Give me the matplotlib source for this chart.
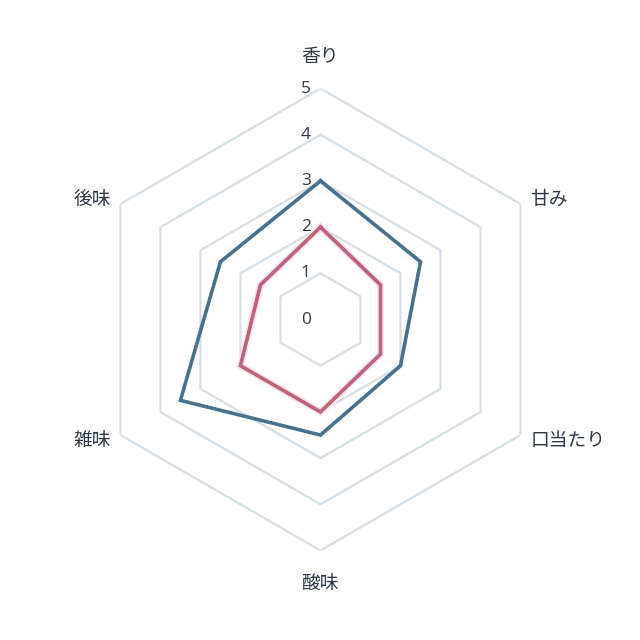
import numpy as np
import matplotlib
matplotlib.use("Agg")
import matplotlib.pyplot as plt
import matplotlib.patheffects as pe

plt.rcParams['font.family'] = ['Noto Sans CJK JP', 'DejaVu Sans']

# data
categories = ["香り", "甘み", "口当たり", "酸味", "雑味", "後味"]
series_blue = [3, 2.5, 2, 2.5, 3.5, 2.5]
series_pink = [2, 1.5, 1.5, 2, 2, 1.5]
rings = [1, 2, 3, 4, 5]
tick_labels = ["0", "1", "2", "3", "4", "5"]

text_color = "#2f3a48"
grid_color = "#d6dee6"
blue = "#48708f"
pink = "#c0627a"

n = len(categories)
angles = np.linspace(0, 2 * np.pi, n, endpoint=False)
closed = np.append(angles, angles[0])

fig = plt.figure(figsize=(6.4, 6.4), dpi=100)
ax = fig.add_axes([0.1398, 0.1398, 0.7219, 0.7219], projection="polar")
ax.set_theta_zero_location("N")
ax.set_theta_direction(-1)
ax.set_ylim(0, 5)
ax.grid(False)
ax.spines["polar"].set_visible(False)
ax.set_xticks([])
ax.set_yticks([])
ax.patch.set_visible(False)

# hexagon rings
for r in rings:
    ax.plot(closed, [r] * (n + 1), color=grid_color, lw=1.6, zorder=1)

# series
ax.plot(closed, series_blue + series_blue[:1], color=blue, lw=2.6, zorder=3,
        solid_joinstyle="miter")
ax.plot(closed, series_pink + series_pink[:1], color=pink, lw=2.6, zorder=3,
        solid_joinstyle="miter",
        path_effects=[pe.Stroke(linewidth=5, foreground="#f8e4e9"), pe.Normal()])

# value labels along the top axis
for i, lab in enumerate(tick_labels):
    ax.annotate(lab, xy=(0, i), xytext=(-7, 0), textcoords="offset points",
                ha="right", va="center", fontsize=12.5, color=text_color,
                family=["Open Sans", "DejaVu Sans"])

# category labels
offsets = [(0, 23, "center", "center"), (7, 3, "left", "center"),
           (7, -4, "left", "center"), (0, -24, "center", "center"),
           (-7, -4, "right", "center"), (-7, 3, "right", "center")]
for ang, lab, (dx, dy, ha, va) in zip(angles, categories, offsets):
    ax.annotate(lab, xy=(ang, 5), xytext=(dx, dy), textcoords="offset points",
                ha=ha, va=va, fontsize=13.5, color=text_color)

fig.savefig("out.png", dpi=100, facecolor="white")
